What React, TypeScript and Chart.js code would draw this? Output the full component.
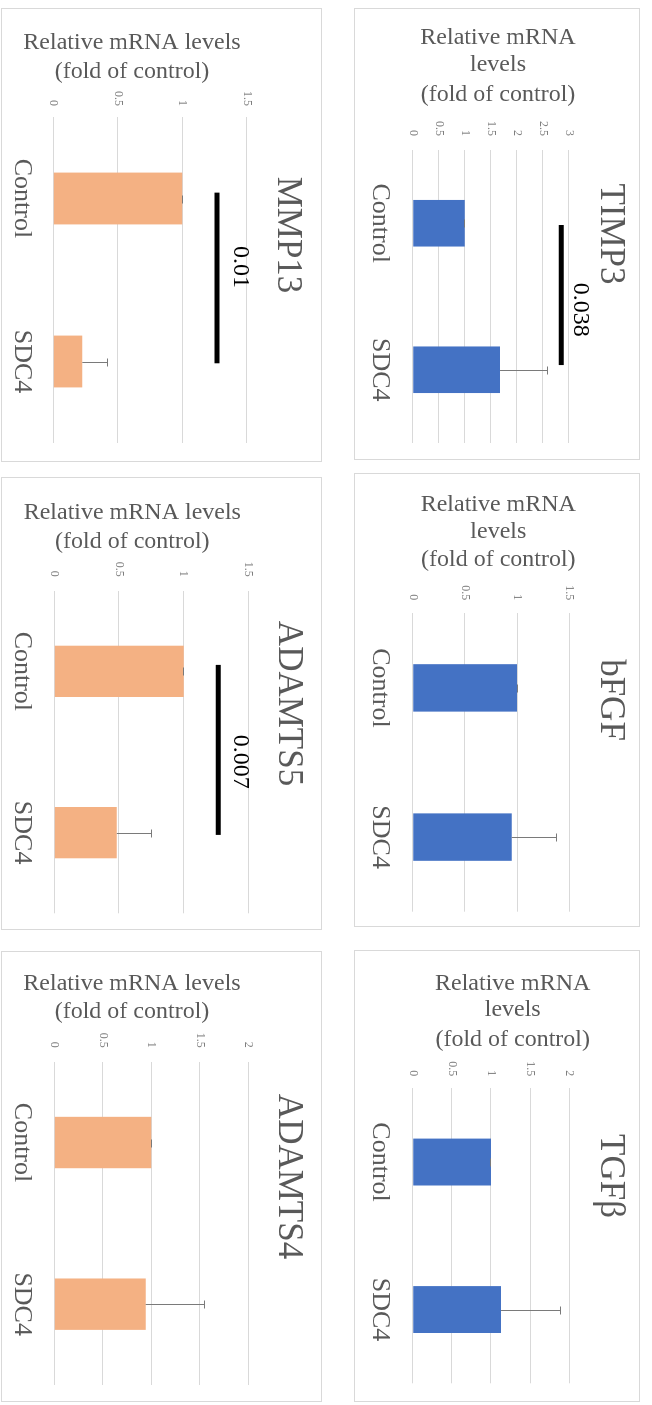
import React, { useEffect, useRef } from "react";
import { Chart, registerables } from "chart.js";

Chart.register(...registerables);
Chart.defaults.font.family = "'Liberation Serif', 'Times New Roman', serif";

// ---------- data ----------
const categories = ["Control", "SDC4"];
const panelTitles = ["MMP13", "ADAMTS5", "ADAMTS4", "TIMP3", "bFGF", "TGFβ"];

const mmp13Values = [1.0, 0.225];
const mmp13Errors = [0.005, 0.2];
const adamts5Values = [1.0, 0.483];
const adamts5Errors = [0.005, 0.27];
const adamts4Values = [1.0, 0.942];
const adamts4Errors = [0.005, 0.61];
const timp3Values = [1.0, 1.676];
const timp3Errors = [0.008, 0.927];
const bfgfValues = [1.0, 0.948];
const bfgfErrors = [0.005, 0.437];
const tgfbValues = [1.0, 1.128];
const tgfbErrors = [0.005, 0.762];

const axisMaxima = [1.5, 1.5, 2, 3, 1.5, 2];
const tickStep = 0.5;
const pValueLabels = ["0.01", "0.007", "", "0.038", "", ""];
const sigBarLevels = [1.27, 1.268, null, 2.85, null, null];

const axisTitleWide = ["Relative mRNA levels", "(fold of control)"];
const axisTitleNarrow = ["Relative mRNA", "levels", "(fold of control)"];

// ---------- styles / layout ----------
const ORANGE = "#F4B183";
const BLUE = "#4472C4";
const TEXT_GRAY = "#595959";
const GRID = "#d9d9d9";

const layouts = [
  { L: 1, T: 8, W: 321, H: 454, left: 108, right: 434, top: 74.3, bottom: 267.7, tickPad: 11, catPad: 16, titleV: 34, atU: [34, 63], atV: 189, sigSpan: [-0.036, 1.011], sigLabelAt: [0.42, 1.448] },
  { L: 1, T: 477, W: 321, H: 453, left: 112.7, right: 435.3, top: 72.7, bottom: 266.7, tickPad: 14, catPad: 16.5, titleV: 32.7, atU: [34.7, 63.7], atV: 188.7, sigSpan: [-0.04, 1.014], sigLabelAt: [0.56, 1.436] },
  { L: 1, T: 951, W: 321, H: 451, left: 109.7, right: 433, top: 72.7, bottom: 266.7, tickPad: 14, catPad: 16.5, titleV: 32.7, atU: [31.3, 59.7], atV: 189, sigSpan: null, sigLabelAt: null },
  { L: 354, T: 8, W: 286, H: 452, left: 141, right: 434, top: 70, bottom: 226.3, tickPad: 14, catPad: 17, titleV: 29, atU: [29, 56, 86], atV: 141, sigSpan: [0.012, 0.968], sigLabelAt: [0.59, 3.21] },
  { L: 354, T: 473, W: 286, H: 454, left: 139.3, right: 437.7, top: 69.7, bottom: 226.3, tickPad: 13, catPad: 17, titleV: 29, atU: [31, 57.7, 86], atV: 140.7, sigSpan: null, sigLabelAt: null },
  { L: 354, T: 950, W: 286, H: 452, left: 137.3, right: 432.3, top: 69.7, bottom: 226.3, tickPad: 12, catPad: 17, titleV: 29, atU: [32.3, 59, 89], atV: 126.3, sigSpan: null, sigLabelAt: null },
];

const overlayPlugin = {
  id: "overlay",
  afterDatasetsDraw(chart: any, _args: any, opts: any) {
    const { ctx } = chart;
    const xs = chart.scales.x;
    const ys = chart.scales.y;
    const meta = chart.getDatasetMeta(0);
    const ds = chart.data.datasets[0];
    ctx.save();
    // error bars (positive only)
    ctx.strokeStyle = "#7a7a7a";
    ctx.lineWidth = 1;
    meta.data.forEach((bar: any, i: number) => {
      const v = ds.data[i];
      const e = opts.errors[i];
      const px = Math.round(bar.x) + 0.5;
      const y0 = ys.getPixelForValue(v);
      const y1 = Math.round(ys.getPixelForValue(v + e)) + 0.5;
      ctx.beginPath();
      ctx.moveTo(px, y0);
      ctx.lineTo(px, y1);
      ctx.moveTo(px - 4, y1);
      ctx.lineTo(px + 4, y1);
      ctx.stroke();
    });
    // significance bar
    if (opts.sigLevel != null && opts.sigSpan) {
      const yy = ys.getPixelForValue(opts.sigLevel);
      ctx.strokeStyle = "#000";
      ctx.lineWidth = 5;
      ctx.lineCap = "butt";
      ctx.beginPath();
      ctx.moveTo(xs.getPixelForValue(opts.sigSpan[0]), yy);
      ctx.lineTo(xs.getPixelForValue(opts.sigSpan[1]), yy);
      ctx.stroke();
      ctx.fillStyle = "#000";
      ctx.font = "24px 'Liberation Serif'";
      ctx.textAlign = "center";
      ctx.textBaseline = "middle";
      ctx.fillText(
        opts.sigLabel,
        xs.getPixelForValue(opts.sigLabelAt[0]),
        ys.getPixelForValue(opts.sigLabelAt[1])
      );
    }
    ctx.restore();
  },
  afterDraw(chart: any, _args: any, opts: any) {
    const { ctx, width } = chart;
    ctx.save();
    ctx.fillStyle = TEXT_GRAY;
    ctx.textAlign = "center";
    ctx.textBaseline = "middle";
    // chart title
    ctx.font = "35px 'Liberation Serif'";
    ctx.fillText(opts.title, width / 2, opts.titleV);
    // value-axis title (rotated)
    ctx.font = "24px 'Liberation Serif'";
    opts.axisTitle.forEach((line: string, i: number) => {
      ctx.save();
      ctx.translate(opts.atU[i], opts.atV);
      ctx.rotate(-Math.PI / 2);
      ctx.fillText(line, 0, 0);
      ctx.restore();
    });
    ctx.restore();
  },
};

function Panel(props: { idx: number; values: number[]; errors: number[]; color: string }) {
  const { idx, values, errors, color } = props;
  const ref = useRef<HTMLCanvasElement | null>(null);
  const lay = layouts[idx];
  const cw = lay.H - 2;
  const ch = lay.W - 2;

  useEffect(() => {
    if (!ref.current) return;
    const chart = new Chart(ref.current, {
      type: "bar",
      data: {
        labels: categories,
        datasets: [
          {
            data: values,
            backgroundColor: color,
            borderWidth: 0,
            barPercentage: 0.318,
            categoryPercentage: 1,
          },
        ],
      },
      options: {
        responsive: false,
        animation: false,
        layout: { padding: { left: 0, right: cw - lay.right, top: lay.top, bottom: 0 } },
        plugins: {
          legend: { display: false },
          tooltip: { enabled: false },
          title: { display: false },
          overlay: {
            errors,
            title: panelTitles[idx],
            titleV: lay.titleV,
            axisTitle: lay.L < 100 ? axisTitleWide : axisTitleNarrow,
            atU: lay.atU,
            atV: lay.atV,
            sigLevel: sigBarLevels[idx],
            sigSpan: lay.sigSpan,
            sigLabel: pValueLabels[idx],
            sigLabelAt: lay.sigLabelAt,
          },
        } as any,
        scales: {
          x: {
            type: "category",
            offset: true,
            grid: { display: false, drawTicks: false },
            border: { display: false },
            ticks: {
              color: TEXT_GRAY,
              font: { size: 26 },
              padding: lay.catPad,
              maxRotation: 0,
              minRotation: 0,
              autoSkip: false,
            },
            afterFit: (s: any) => {
              s.height = ch - lay.bottom;
            },
          },
          y: {
            type: "linear",
            min: 0,
            max: axisMaxima[idx],
            grid: { color: GRID, lineWidth: 1, drawTicks: false },
            border: { display: false },
            ticks: {
              stepSize: tickStep,
              color: "#7f7f7f",
              font: { size: 12 },
              padding: lay.tickPad,
              callback: (v: any) => String(v),
            },
            afterFit: (s: any) => {
              s.width = lay.left;
            },
          },
        },
      },
      plugins: [overlayPlugin],
    } as any);
    return () => chart.destroy();
  }, []);

  return (
    <div
      style={{
        position: "absolute",
        left: lay.L,
        top: lay.T,
        width: lay.W,
        height: lay.H,
        boxSizing: "border-box",
        border: "1px solid " + GRID,
        overflow: "hidden",
        background: "#fff",
      }}
    >
      <div
        style={{
          position: "absolute",
          left: 0,
          top: 0,
          width: cw,
          height: ch,
          transformOrigin: "0 0",
          transform: `translate(${ch}px, 0px) rotate(90deg)`,
        }}
      >
        <canvas ref={ref} width={cw} height={ch} style={{ display: "block" }} />
      </div>
    </div>
  );
}

export default function App() {
  return (
    <div
      style={{
        position: "absolute",
        left: 0,
        top: 0,
        width: 652,
        height: 1405,
        background: "#fff",
        overflow: "hidden",
      }}
    >
      <Panel idx={0} values={mmp13Values} errors={mmp13Errors} color={ORANGE} />
      <Panel idx={1} values={adamts5Values} errors={adamts5Errors} color={ORANGE} />
      <Panel idx={2} values={adamts4Values} errors={adamts4Errors} color={ORANGE} />
      <Panel idx={3} values={timp3Values} errors={timp3Errors} color={BLUE} />
      <Panel idx={4} values={bfgfValues} errors={bfgfErrors} color={BLUE} />
      <Panel idx={5} values={tgfbValues} errors={tgfbErrors} color={BLUE} />
    </div>
  );
}
